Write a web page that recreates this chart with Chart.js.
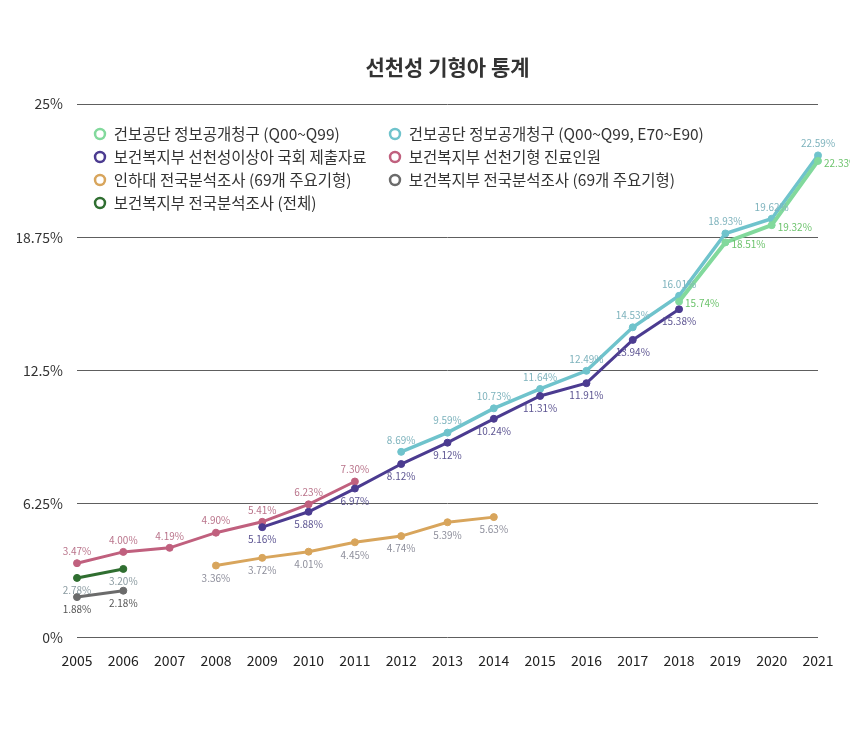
<!DOCTYPE html>
<html>
<head>
<meta charset="utf-8">
<script src="https://cdn.jsdelivr.net/npm/chart.js@4.4.1/dist/chart.umd.min.js"></script>
<style>
  html, body { margin: 0; padding: 0; background: #fff; }
  #wrap { width: 850px; height: 747px; }
</style>
</head>
<body>
<div id="wrap"><canvas id="birthChart"></canvas></div>
<script>
    const years = ['2005', '2006', '2007', '2008', '2009', '2010', '2011', '2012', '2013',
        '2014', '2015', '2016', '2017', '2018', '2019', '2020', '2021'];
    const yTicks = [0, 6.25, 12.5, 18.75, 25];

    // series, one value per year (null = no data)
    const nhisQ = [null, null, null, null, null, null, null, null, null, null, null, null, null, 15.74, 18.51, 19.32, 22.33];
    const mohwAssembly = [null, null, null, null, 5.16, 5.88, 6.97, 8.12, 9.12, 10.24, 11.31, 11.91, 13.94, 15.38, null, null, null];
    const inha69 = [null, null, null, 3.36, 3.72, 4.01, 4.45, 4.74, 5.39, 5.63, null, null, null, null, null, null, null];
    const mohwSurveyAll = [2.78, 3.20, null, null, null, null, null, null, null, null, null, null, null, null, null, null, null];
    const nhisQE = [null, null, null, null, null, null, null, 8.69, 9.59, 10.73, 11.64, 12.49, 14.53, 16.01, 18.93, 19.62, 22.59];
    const mohwPatients = [3.47, 4.00, 4.19, 4.90, 5.41, 6.23, 7.30, null, null, null, null, null, null, null, null, null, null];
    const mohwSurvey69 = [1.88, 2.18, null, null, null, null, null, null, null, null, null, null, null, null, null, null, null];

    const seriesNames = [
        '건보공단 정보공개청구 (Q00~Q99)',
        '보건복지부 선천성이상아 국회 제출자료',
        '인하대 전국분석조사 (69개 주요기형)',
        '보건복지부 전국분석조사 (전체)',
        '건보공단 정보공개청구 (Q00~Q99, E70~E90)',
        '보건복지부 선천기형 진료인원',
        '보건복지부 전국분석조사 (69개 주요기형)'
    ];
    const seriesValues = [nhisQ, mohwAssembly, inha69, mohwSurveyAll, nhisQE, mohwPatients, mohwSurvey69];
    const lineColors = ['#82d99c', '#4b3b90', '#d8a55c', '#2f6e30', '#6fc3cc', '#c0607e', '#6b6b6b'];
    const lineWidths = [4, 3, 3, 3, 3.5, 3, 3];
    const labelColors = ['#6cc36c', '#5d5592', '#8e8f9c', '#8a9aa0', '#7eb3bd', '#b9738a', '#555555'];
    const labelPlace = ['right', 'below', 'below', 'below', 'above', 'above', 'below'];

    Chart.defaults.font.family = '"Noto Sans CJK KR", "Noto Sans", sans-serif';

    // value labels next to each point
    const pointLabels = {
        id: 'pointLabels',
        afterDatasetsDraw(chart) {
            const ctx = chart.ctx;
            ctx.save();
            ctx.font = '10px "Noto Sans CJK KR", "Noto Sans", sans-serif';
            chart.data.datasets.forEach(function(ds, i) {
                const meta = chart.getDatasetMeta(i);
                ctx.fillStyle = labelColors[i];
                meta.data.forEach(function(pt, j) {
                    const v = ds.data[j];
                    if (v === null || v === undefined) return;
                    let x = pt.x, y = pt.y;
                    ctx.textBaseline = 'middle';
                    if (labelPlace[i] === 'above') {
                        ctx.textAlign = 'center';
                        y -= 12;
                    } else if (labelPlace[i] === 'below') {
                        ctx.textAlign = 'center';
                        y += 12.5;
                    } else {
                        ctx.textAlign = 'left';
                        x += 6;
                        y += 2;
                    }
                    ctx.fillText(v.toFixed(2) + '%', x, y);
                });
            });
            ctx.restore();
        }
    };

    // put the legend into two columns at the top-left of the plot
    const legendColumns = {
        id: 'legendColumns',
        afterLayout(chart) {
            const lg = chart.legend;
            const area = chart.chartArea;
            lg.maxHeight = 110;
            lg.fit();
            lg.left = area.left + 9.5;
            lg.top = area.top + 14.75;
            lg.bottom = lg.top + 110;
            if (lg.columnSizes && lg.columnSizes[0]) {
                lg.columnSizes[0].width = 287.5;
            }
        }
    };

    const datasets = seriesValues.map(function(vals, i) {
        return {
            label: seriesNames[i],
            data: vals,
            borderColor: lineColors[i],
            backgroundColor: lineColors[i],
            borderWidth: lineWidths[i],
            pointRadius: 3.5,
            pointHoverRadius: 4,
            pointBackgroundColor: lineColors[i],
            pointBorderColor: lineColors[i],
            pointBorderWidth: 1,
            pointStyle: 'circle',
            tension: 0
        };
    });

    const ctxBirth = document.getElementById('birthChart').getContext('2d');
    const birthChart = new Chart(ctxBirth, {
        type: 'line',
        data: {
            labels: years,
            datasets: datasets
        },
        options: {
            responsive: true,
            maintainAspectRatio: false,
            animation: false,
            layout: {
                padding: { left: 17, right: 32, top: 0, bottom: 63 }
            },
            scales: {
                x: {
                    offset: false,
                    grid: { display: false, drawTicks: false },
                    border: { display: false },
                    ticks: {
                        color: '#222',
                        font: { size: 14 },
                        padding: 15,
                        maxRotation: 0,
                        autoSkip: false
                    }
                },
                y: {
                    min: 0,
                    max: 25,
                    afterBuildTicks: function(axis) {
                        axis.ticks = yTicks.map(function(v) { return { value: v }; });
                    },
                    afterFit: function(axis) {
                        axis.width = 60;
                    },
                    ticks: {
                        color: '#333',
                        font: { size: 14 },
                        padding: 14,
                        callback: function(value) {
                            return value + '%';
                        }
                    },
                    grid: {
                        color: '#5e5e5e',
                        lineWidth: 1,
                        drawTicks: false
                    },
                    border: { display: false }
                }
            },
            plugins: {
                title: {
                    display: true,
                    text: '선천성 기형아 통계',
                    fullSize: false,
                    color: '#333',
                    font: { size: 21, weight: '600' },
                    padding: { top: 54.4, bottom: 24.4 }
                },
                legend: {
                    position: 'chartArea',
                    align: 'start',
                    labels: {
                        usePointStyle: true,
                        boxWidth: 12,
                        boxHeight: 7,
                        padding: 7.5,
                        color: '#333',
                        font: { size: 15.5 },
                        generateLabels: function(chart) {
                            const items = Chart.defaults.plugins.legend.labels.generateLabels(chart);
                            items.forEach(function(it) {
                                it.fillStyle = '#fff';
                                it.lineWidth = 2.5;
                            });
                            return items;
                        }
                    }
                },
                tooltip: {
                    enabled: true
                }
            }
        },
        plugins: [pointLabels, legendColumns]
    });
</script>
</body>
</html>
